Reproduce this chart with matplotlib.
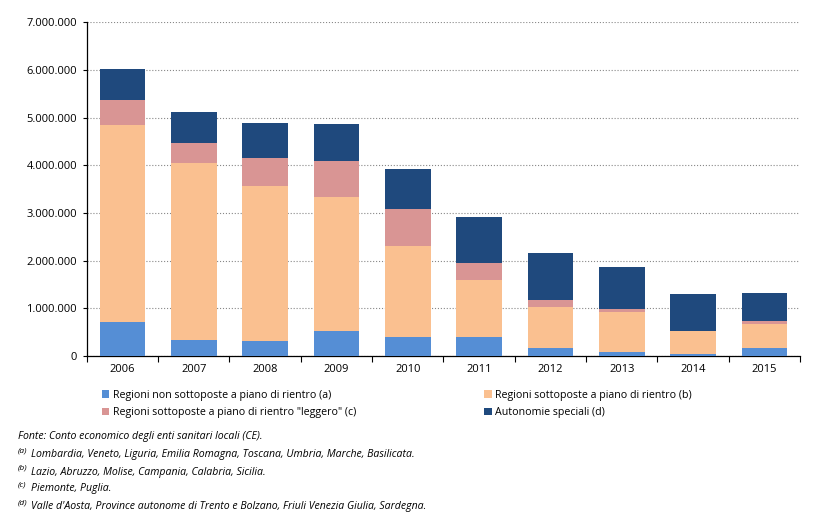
import matplotlib.pyplot as plt
import matplotlib as mpl
import numpy as np
from matplotlib.ticker import FuncFormatter, FixedLocator

mpl.rcParams['font.family'] = ['Open Sans', 'DejaVu Sans']

YEARS = ['2006', '2007', '2008', '2009', '2010', '2011', '2012', '2013', '2014', '2015']
# values in euro
REG_A = [720000, 340000, 320000, 520000, 390000, 390000, 170000, 90000, 40000, 170000]
REG_B = [4120000, 3710000, 3250000, 2820000, 1910000, 1210000, 860000, 830000, 480000, 500000]
REG_C = [540000, 430000, 590000, 760000, 780000, 360000, 140000, 70000, 10000, 60000]
AUT_D = [640000, 650000, 730000, 770000, 840000, 950000, 1000000, 880000, 780000, 590000]

LABELS = ['Regioni non sottoposte a piano di rientro (a)',
          'Regioni sottoposte a piano di rientro (b)',
          'Regioni sottoposte a piano di rientro "leggero" (c)',
          'Autonomie speciali (d)']
COLORS = ['#558ED5', '#FAC090', '#D99594', '#1F497D']

NOTES = [('', 'Fonte: Conto economico degli enti sanitari locali (CE).'),
         ('(a)', 'Lombardia, Veneto, Liguria, Emilia Romagna, Toscana, Umbria, Marche, Basilicata.'),
         ('(b)', 'Lazio, Abruzzo, Molise, Campania, Calabria, Sicilia.'),
         ('(c)', 'Piemonte, Puglia.'),
         ('(d)', "Valle d'Aosta, Province autonome di Trento e Bolzano, Friuli Venezia Giulia, Sardegna.")]

fig = plt.figure(figsize=(8.19, 5.18), dpi=100)
ax = fig.add_axes([0.106, 0.3127, 0.871, 0.644])

x = np.arange(len(YEARS))
bottom = np.zeros(len(YEARS))
handles = []
for vals, col, lab in zip([REG_A, REG_B, REG_C, AUT_D], COLORS, LABELS):
    b = ax.bar(x, vals, 0.64, bottom=bottom, color=col, label=lab, zorder=3)
    handles.append(b)
    bottom += np.array(vals)

ax.set_xlim(-0.5, len(YEARS) - 0.5)
ax.set_ylim(0, 7000000)
ax.set_yticks(np.arange(0, 7000001, 1000000))
ax.yaxis.set_major_formatter(FuncFormatter(lambda v, p: f'{int(v):,}'.replace(',', '.')))
ax.set_xticks(x)
ax.set_xticklabels(YEARS)
ax.xaxis.set_minor_locator(FixedLocator(np.arange(-0.5, len(YEARS), 1.0)))
ax.tick_params(axis='x', which='major', length=0, pad=6, labelsize=8)
ax.tick_params(axis='x', which='minor', length=4, direction='out', width=0.8)
ax.tick_params(axis='y', length=3, width=0.8, labelsize=8, pad=4)

ax.grid(axis='y', linestyle=':', color='#888888', linewidth=0.8, zorder=0)
for s in ['top', 'right']:
    ax.spines[s].set_visible(False)
ax.spines['left'].set_linewidth(0.9)
ax.spines['bottom'].set_linewidth(0.9)

# legend in two columns, order as in the figure
fig.legend([handles[0], handles[2], handles[1], handles[3]],
           [LABELS[0], LABELS[2], LABELS[1], LABELS[3]],
           ncol=2, loc='upper left', bbox_to_anchor=(0.118, 0.258),
           frameon=False, fontsize=7.7, handlelength=0.7, handleheight=0.7,
           handletextpad=0.3, columnspacing=12.0, labelspacing=0.6, borderpad=0)

note_font = ['Liberation Sans Narrow', 'Open Sans', 'DejaVu Sans']
ys = [437, 455, 472, 489, 507]
for (sup, txt), yp in zip(NOTES, ys):
    yf = 1 - yp / 518
    if sup:
        fig.text(18 / 819, yf + 0.008, sup, fontsize=6, style='italic', family=note_font, va='center')
        fig.text(31 / 819, yf, txt, fontsize=7.6, style='italic', family=note_font, va='center')
    else:
        fig.text(18 / 819, yf, txt, fontsize=7.6, style='italic', family=note_font, va='center')

fig.savefig('out.png', dpi=100)
